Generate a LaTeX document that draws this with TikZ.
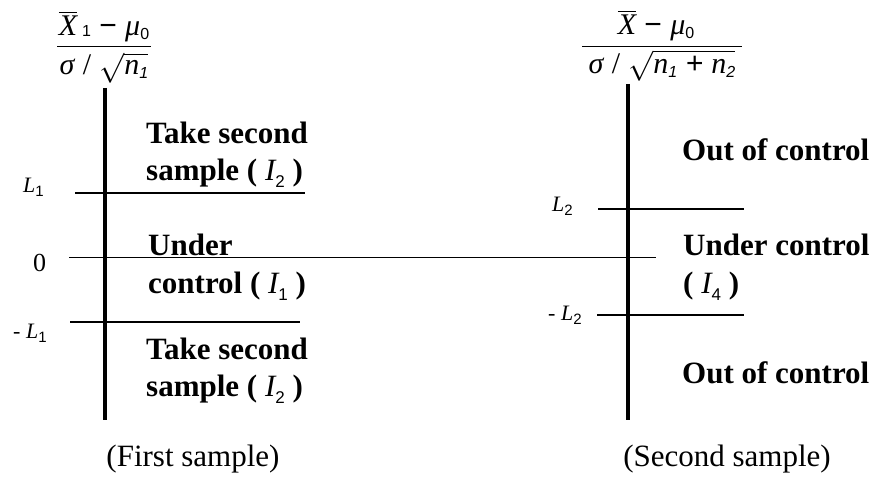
\RequirePackage{fix-cm}
\documentclass[tikz,border=0pt]{standalone}
\usepackage{amsmath}
\usepackage{fontspec}
\setmainfont{Liberation Serif}[ItalicFont={Liberation Serif Italic},BoldFont={Liberation Serif Bold},BoldItalicFont={Liberation Serif Bold Italic}]
\newfontfamily\sansf{Liberation Sans}
\newcommand{\fsub}[2][0.12em]{\raisebox{-#1}{\sansf\fontsize{16}{16}\selectfont #2}}
\newcommand{\lsub}[1]{\raisebox{-0.22em}{\sansf\fontsize{15}{15}\selectfont #1}}
\newcommand{\bsub}[1]{\raisebox{-0.25em}{\sansf\mdseries\fontsize{17}{17}\selectfont #1}}
\tikzset{
  txt/.style={anchor=base west, inner sep=0pt, font=\fontsize{31}{37}\selectfont\bfseries},
  capt/.style={anchor=base, inner sep=0pt, font=\fontsize{31}{37}\selectfont},
  lab/.style={anchor=base west, inner sep=0pt, font=\fontsize{22}{26}\selectfont},
  zerolab/.style={anchor=base west, inner sep=0pt, font=\fontsize{26}{30}\selectfont},
  frm/.style={anchor=base, inner sep=0pt, font=\fontsize{30}{34}\selectfont},
  axisline/.style={line width=4pt},
  limline/.style={line width=2.5pt},
  zeroline/.style={line width=1pt},
  barline/.style={line width=1pt},
}
\begin{document}
\begin{tikzpicture}[x=1pt,y=-1pt]
\useasboundingbox (0,0) rectangle (877,476);
% coordinates
\coordinate (a1t) at (105,88);  \coordinate (a1b) at (105,420);
\coordinate (a2t) at (628,84);  \coordinate (a2b) at (628,420);
\coordinate (l1a) at (75,193);  \coordinate (l1b) at (305,193);
\coordinate (m1a) at (70,322);  \coordinate (m1b) at (300,322);
\coordinate (z0a) at (69,257);  \coordinate (z0b) at (656,257);
\coordinate (l2a) at (598,209); \coordinate (l2b) at (744,209);
\coordinate (m2a) at (597,315); \coordinate (m2b) at (744,315);
\coordinate (f1a) at (57,47);   \coordinate (f1b) at (151,47);
\coordinate (f2a) at (582,47);  \coordinate (f2b) at (742,47);
% lines
\draw[axisline] (a1t) -- (a1b);
\draw[axisline] (a2t) -- (a2b);
\draw[limline] (l1a) -- (l1b);
\draw[limline] (m1a) -- (m1b);
\draw[zeroline] (z0a) -- (z0b);
\draw[limline] (l2a) -- (l2b);
\draw[limline] (m2a) -- (m2b);
\draw[barline] (f1a) -- (f1b);
\draw[barline] (f2a) -- (f2b);
% formulas
\node[frm] (n1) at (104,36) {$\overline{\mbox{\itshape X}}$\,\fsub[0.03em]{1}\;{\sansf −}\;{\itshape μ}\fsub{0}};
\node[frm] (d1) at (104,75) {{\itshape σ}\;/\;$\sqrt{\mbox{\itshape n\fsub{1}}}$};
\node[frm] (n2) at (656,35) {$\overline{\mbox{\itshape X}}$\;{\sansf −}\;{\itshape μ}\fsub{0}};
\node[frm] (d2) at (662,74) {{\itshape σ}\;/\;$\sqrt{\mbox{\itshape n\fsub{1}\;{\sansf +}\;n\fsub{2}}}$};
% axis labels
\node[lab] (L1) at (23,192) {{\itshape L}\lsub{1}};
\node[zerolab] (Z0) at (33,271) {0};
\node[lab] (mL1) at (13,338) {- {\itshape L}\lsub{1}};
\node[lab] (L2) at (552,211) {{\itshape L}\lsub{2}};
\node[lab] (mL2) at (548,320) {- {\itshape L}\lsub{2}};
% region texts, first sample
\node[txt] (t1) at (146,143) {Take second};
\node[txt] (t2) at (146,180) {sample ( {\mdseries\itshape I}\bsub{2} )};
\node[txt] (t3) at (148,255) {Under};
\node[txt] (t4) at (148,293) {control ( {\mdseries\itshape I}\bsub{1} )};
\node[txt] (t5) at (146,359) {Take second};
\node[txt] (t6) at (146,396) {sample ( {\mdseries\itshape I}\bsub{2} )};
% region texts, second sample
\node[txt] (r1) at (682,160) {Out of control};
\node[txt] (r2) at (683,255) {Under control};
\node[txt] (r3) at (683,293) {( {\mdseries\itshape I}\bsub{4} )};
\node[txt] (r4) at (682,383) {Out of control};
% captions
\node[capt] (c1) at (193,466) {(First sample)};
\node[capt] (c2) at (727,466) {(Second sample)};
\end{tikzpicture}
\end{document}
